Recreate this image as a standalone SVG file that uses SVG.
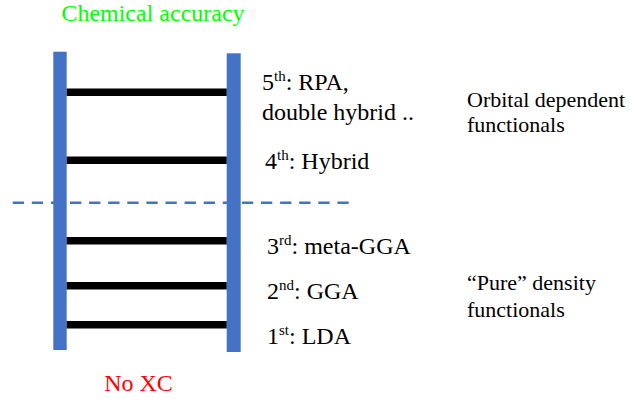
<svg xmlns="http://www.w3.org/2000/svg" width="630" height="401" viewBox="0 0 630 401">
<style>
.rail{fill:#4472C4}
.rung{fill:#000}
text{font-family:'Liberation Serif','Times New Roman','DejaVu Serif',serif}
.t{font-size:24px;fill:#000}
.s{font-size:15px}
.r{font-size:22px;fill:#000}
</style>
<rect width="630" height="401" fill="#fff"/>
<g id="rails">
<rect class="rail" x="53.3" y="51.7" width="13.4" height="298.3"/>
<rect class="rail" x="226.7" y="53.3" width="14" height="298.7"/>
</g>
<g id="connectors">
<rect class="rung" x="66.7" y="88.5" width="160" height="7.5"/>
<rect class="rung" x="66.7" y="156.5" width="160" height="7.5"/>
<rect class="rung" x="66.7" y="237" width="160" height="7.5"/>
<rect class="rung" x="66.7" y="282" width="160" height="7.5"/>
<rect class="rung" x="66.7" y="321" width="160" height="7.5"/>
<line x1="12.7" y1="202.8" x2="350" y2="202.8" stroke="#4472C4" stroke-width="2.6" stroke-dasharray="11.3 7.8"/>
</g>
<g id="top"><text class="t" x="153" y="21" text-anchor="middle" font-family="Liberation Serif, serif" style="fill:#00FF00">Chemical accuracy</text></g>
<g id="bottom"><text class="t" x="138.5" y="391" text-anchor="middle" font-family="Liberation Serif, serif" style="fill:#FF0000">No XC</text></g>
<g id="rung5"><text class="t" x="262" y="90">5<tspan class="s" dy="-9">th</tspan><tspan dy="9">: RPA,</tspan></text>
<text class="t" x="262" y="120">double hybrid ..</text></g>
<g id="rung4"><text class="t" x="265" y="169">4<tspan class="s" dy="-9">th</tspan><tspan dy="9">: Hybrid</tspan></text></g>
<g id="rung3"><text class="t" x="267" y="254">3<tspan class="s" dy="-9">rd</tspan><tspan dy="9">: meta-GGA</tspan></text></g>
<g id="rung2"><text class="t" x="267" y="299">2<tspan class="s" dy="-9">nd</tspan><tspan dy="9">: GGA</tspan></text></g>
<g id="rung1"><text class="t" x="267" y="344">1<tspan class="s" dy="-9">st</tspan><tspan dy="9">: LDA</tspan></text></g>
<g id="orbital"><text class="r" x="467" y="107">Orbital dependent</text><text class="r" x="467" y="132">functionals</text></g>
<g id="pure"><text class="r" x="467" y="290">“Pure” density</text><text class="r" x="467" y="317">functionals</text></g>
</svg>
